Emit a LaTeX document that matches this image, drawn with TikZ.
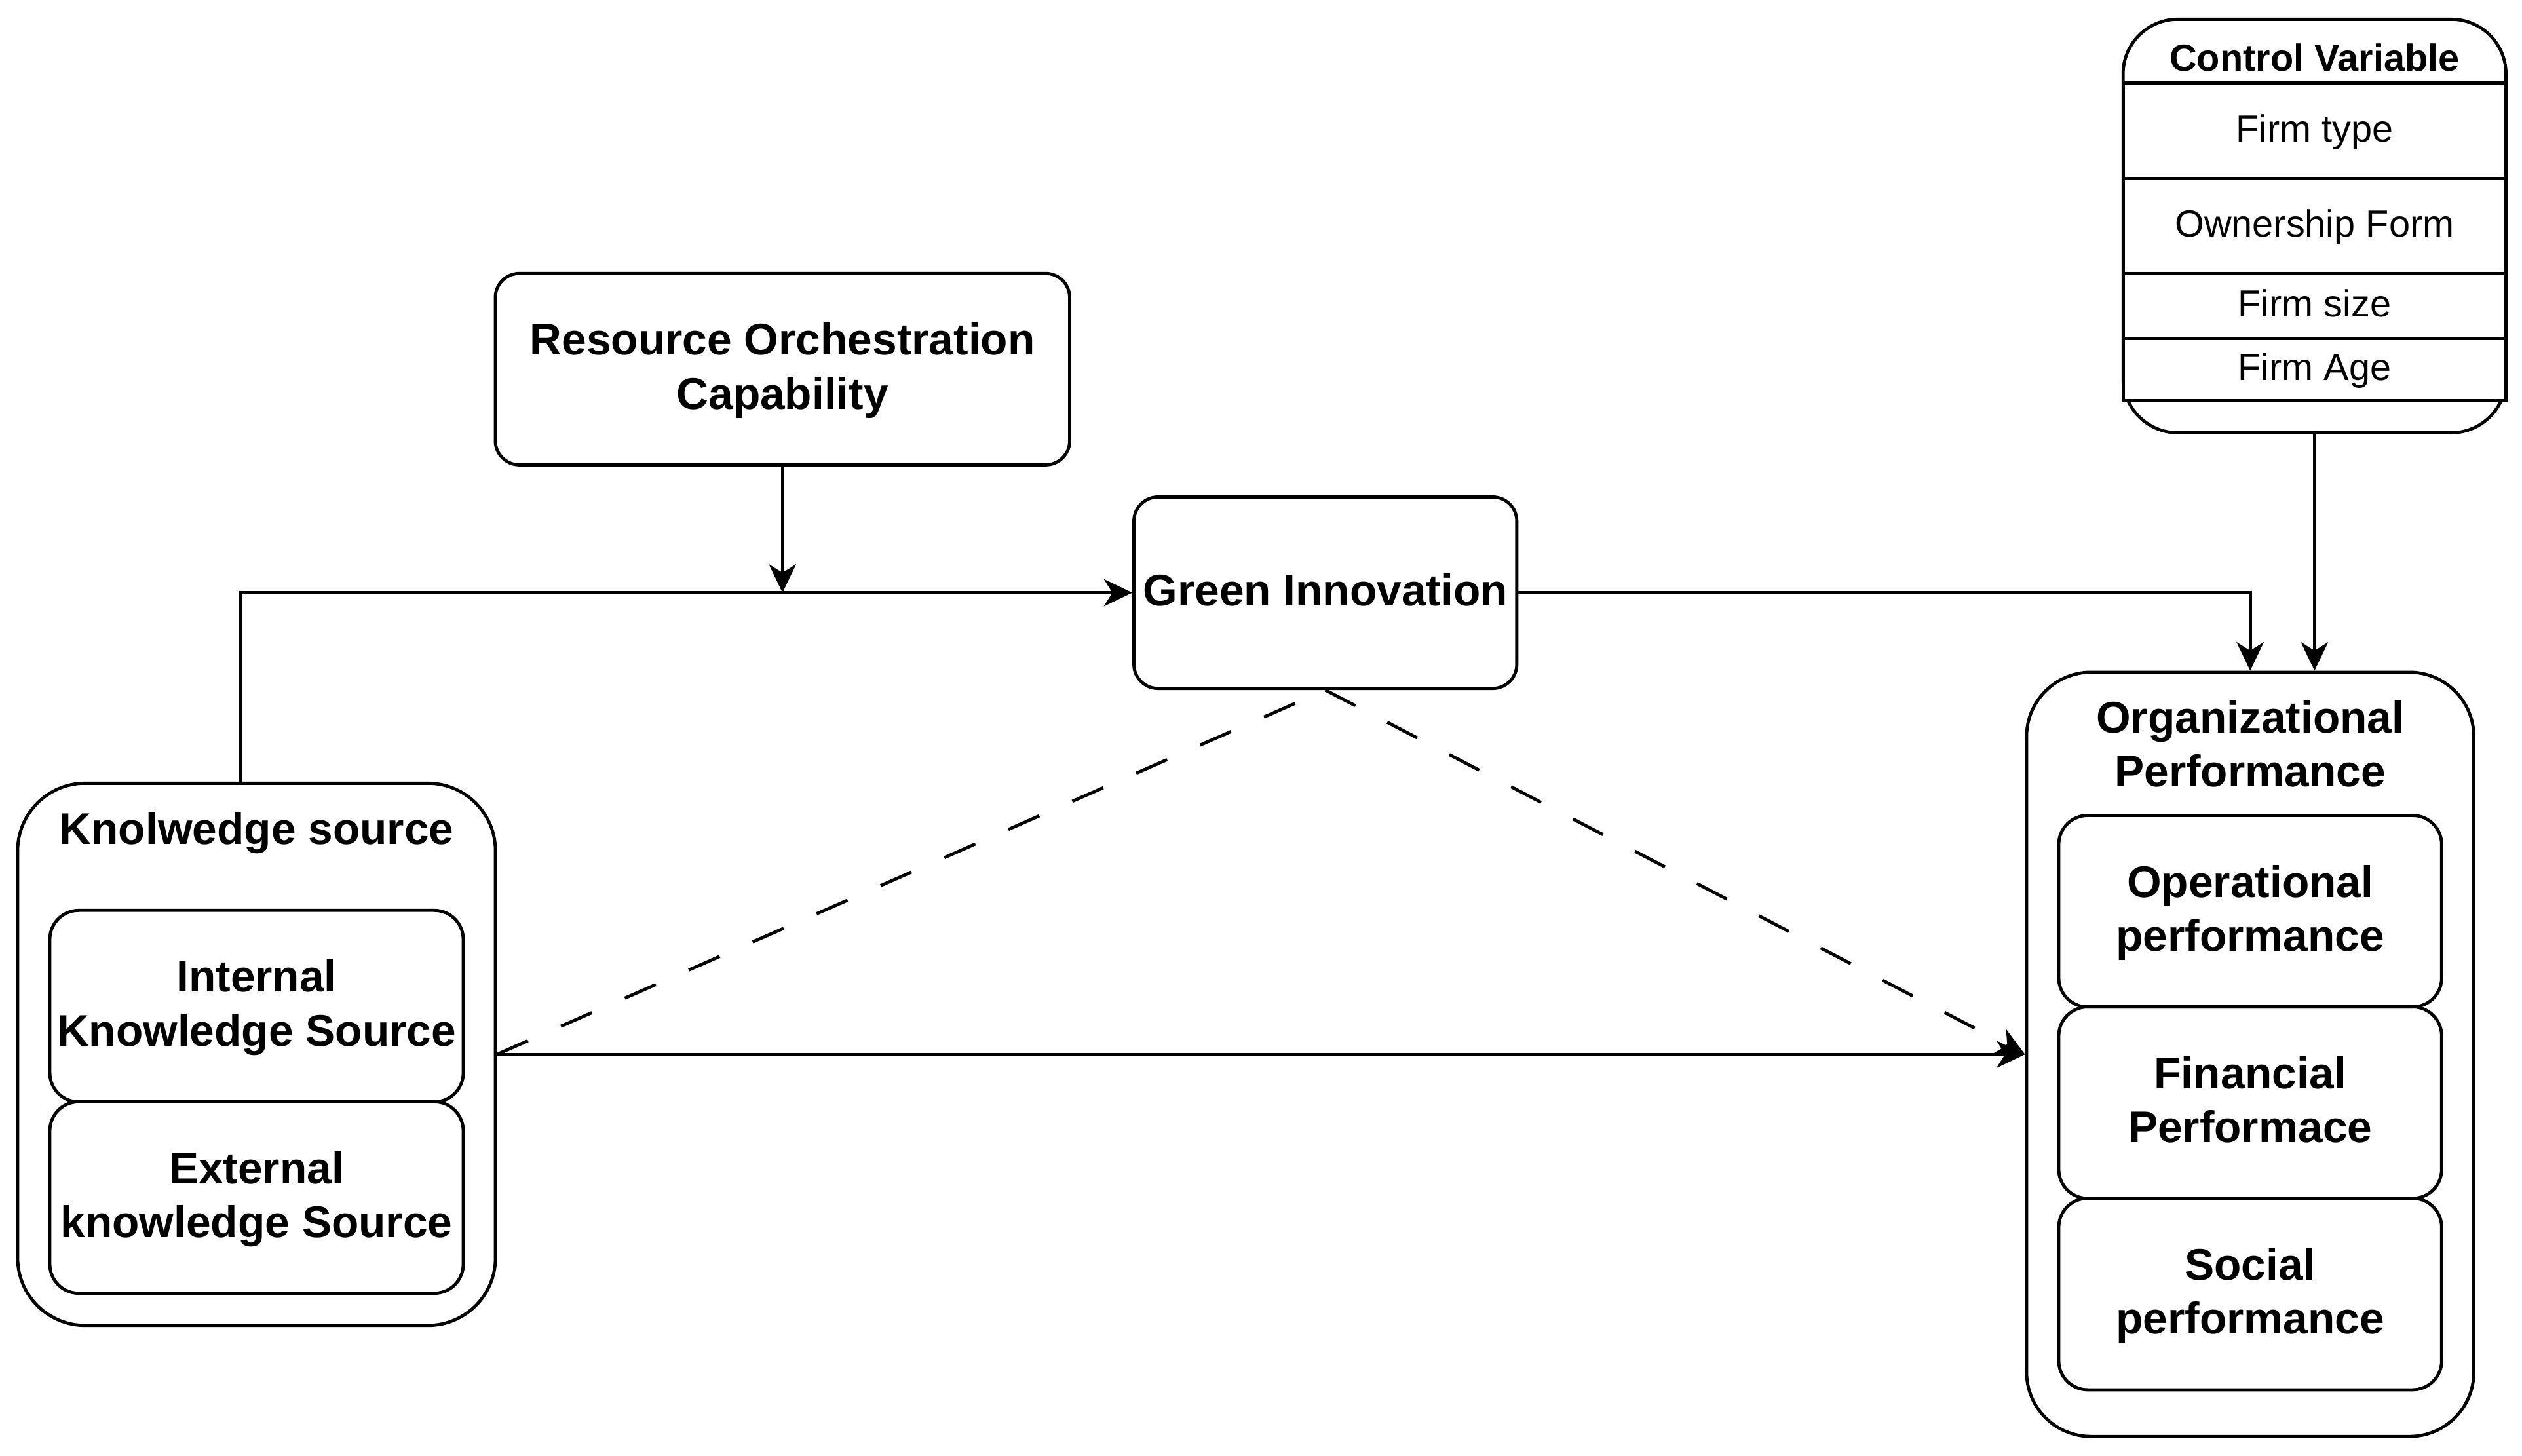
\documentclass[tikz,border=0pt]{standalone}
\usepackage{fontspec}
\setmainfont{Liberation Sans}
\usetikzlibrary{arrows.meta}
\newcommand\mybf{\fontsize{19.6}{23.8}\selectfont\bfseries}
\newcommand\myrg{\fontsize{16.7}{20}\selectfont}
\newcommand\myrgb{\fontsize{16.7}{20}\selectfont\bfseries}
\newcommand\mystr{\rule[\dimexpr0.29em-0.5\baselineskip\relax]{0pt}{\baselineskip}}
\begin{document}
\begin{tikzpicture}[x=0.025cm,y=-0.025cm,line width=1.4pt,
  bxs/.style={draw,rounded corners=0.375cm,inner sep=0pt,align=center,font=\mybf},
  sub/.style={draw,rounded corners=0.45cm,inner sep=0pt,align=center,font=\mybf,minimum height=2.975cm},
  cell/.style={draw,fill=white,inner sep=0pt,minimum width=5.95cm,font=\myrg},
  txt/.style={inner sep=0pt,align=center},
  conn/.style={-{Stealth[length=0.44cm,width=0.42cm,inset=0.13cm]}},
  dsh/.style={dash pattern=on 0.525cm off 0.56cm}]
\useasboundingbox (0,0) rectangle (1568,905);
\fill[white] (0,0) rectangle (1568,905);

% Resource Orchestration Capability
\node[bxs,minimum width=8.925cm,minimum height=2.975cm] (res) at (486.5,229.5)
  {\mystr Resource Orchestration\\\mystr Capability};
% Green Innovation
\node[bxs,minimum width=5.95cm,minimum height=2.975cm] (gi) at (824,368.5)
  {\mystr Green Innovation};

% Organizational Performance
\node[draw,rounded corners=1.0cm,inner sep=0pt,minimum width=6.95cm,minimum height=11.875cm] (org) at (1399,655.5) {};
\node[txt,font=\mybf] (orgt) at (1399,464.5) {\mystr Organizational\\\mystr Performance};
\node[sub,minimum width=5.95cm] (op) at (1399,566.5) {\mystr Operational\\\mystr performance};
\node[sub,minimum width=5.95cm] (fin) at (1399,685.5) {\mystr Financial\\\mystr Performace};
\node[sub,minimum width=5.95cm] (soc) at (1399,804.5) {\mystr Social\\\mystr performance};

% Knowledge source
\node[draw,rounded corners=1.05cm,inner sep=0pt,minimum width=7.425cm,minimum height=8.425cm] (know) at (159.5,655.5) {};
\node[txt,font=\mybf] (knowt) at (159.5,517) {\mystr Knolwedge source};
\node[sub,minimum width=6.425cm] (int) at (159.5,625.5) {\mystr Internal\\\mystr Knowledge Source};
\node[sub,minimum width=6.425cm] (ext) at (159.5,744.5) {\mystr External\\\mystr knowledge Source};

% Control Variable
\node[draw,rounded corners=0.85cm,inner sep=0pt,minimum width=5.95cm,minimum height=6.425cm] (ctrl) at (1439,140.5) {};
\node[txt,font=\myrgb] (ctrlt) at (1439,37.5) {\mystr Control Variable};
\node[cell,minimum height=1.485cm] (c1) at (1439,81.3) {\mystr Firm type};
\node[cell,minimum height=1.475cm] (c2) at (1439,140.5) {\mystr Ownership Form};
\node[cell,minimum height=1.01cm] (c3) at (1439,190.2) {\mystr Firm size};
\node[cell,minimum height=0.965cm] (c4) at (1439,229.7) {\mystr Firm Age};

% connectors
\draw[conn] ([xshift=-0.25cm]know.north) |- (gi.west);
\draw[conn] (res.south) -- (res.south |- gi.west);
\draw[conn] (gi.east) -| (org.north);
\draw[conn] (ctrl.south) -- (ctrl.south |- org.north);
\draw[conn] (know.east) -- (org.west);
\draw[dsh] (know.east) -- (gi.south);
\draw[dsh,conn] (gi.south) -- (org.west);
\end{tikzpicture}
\end{document}
